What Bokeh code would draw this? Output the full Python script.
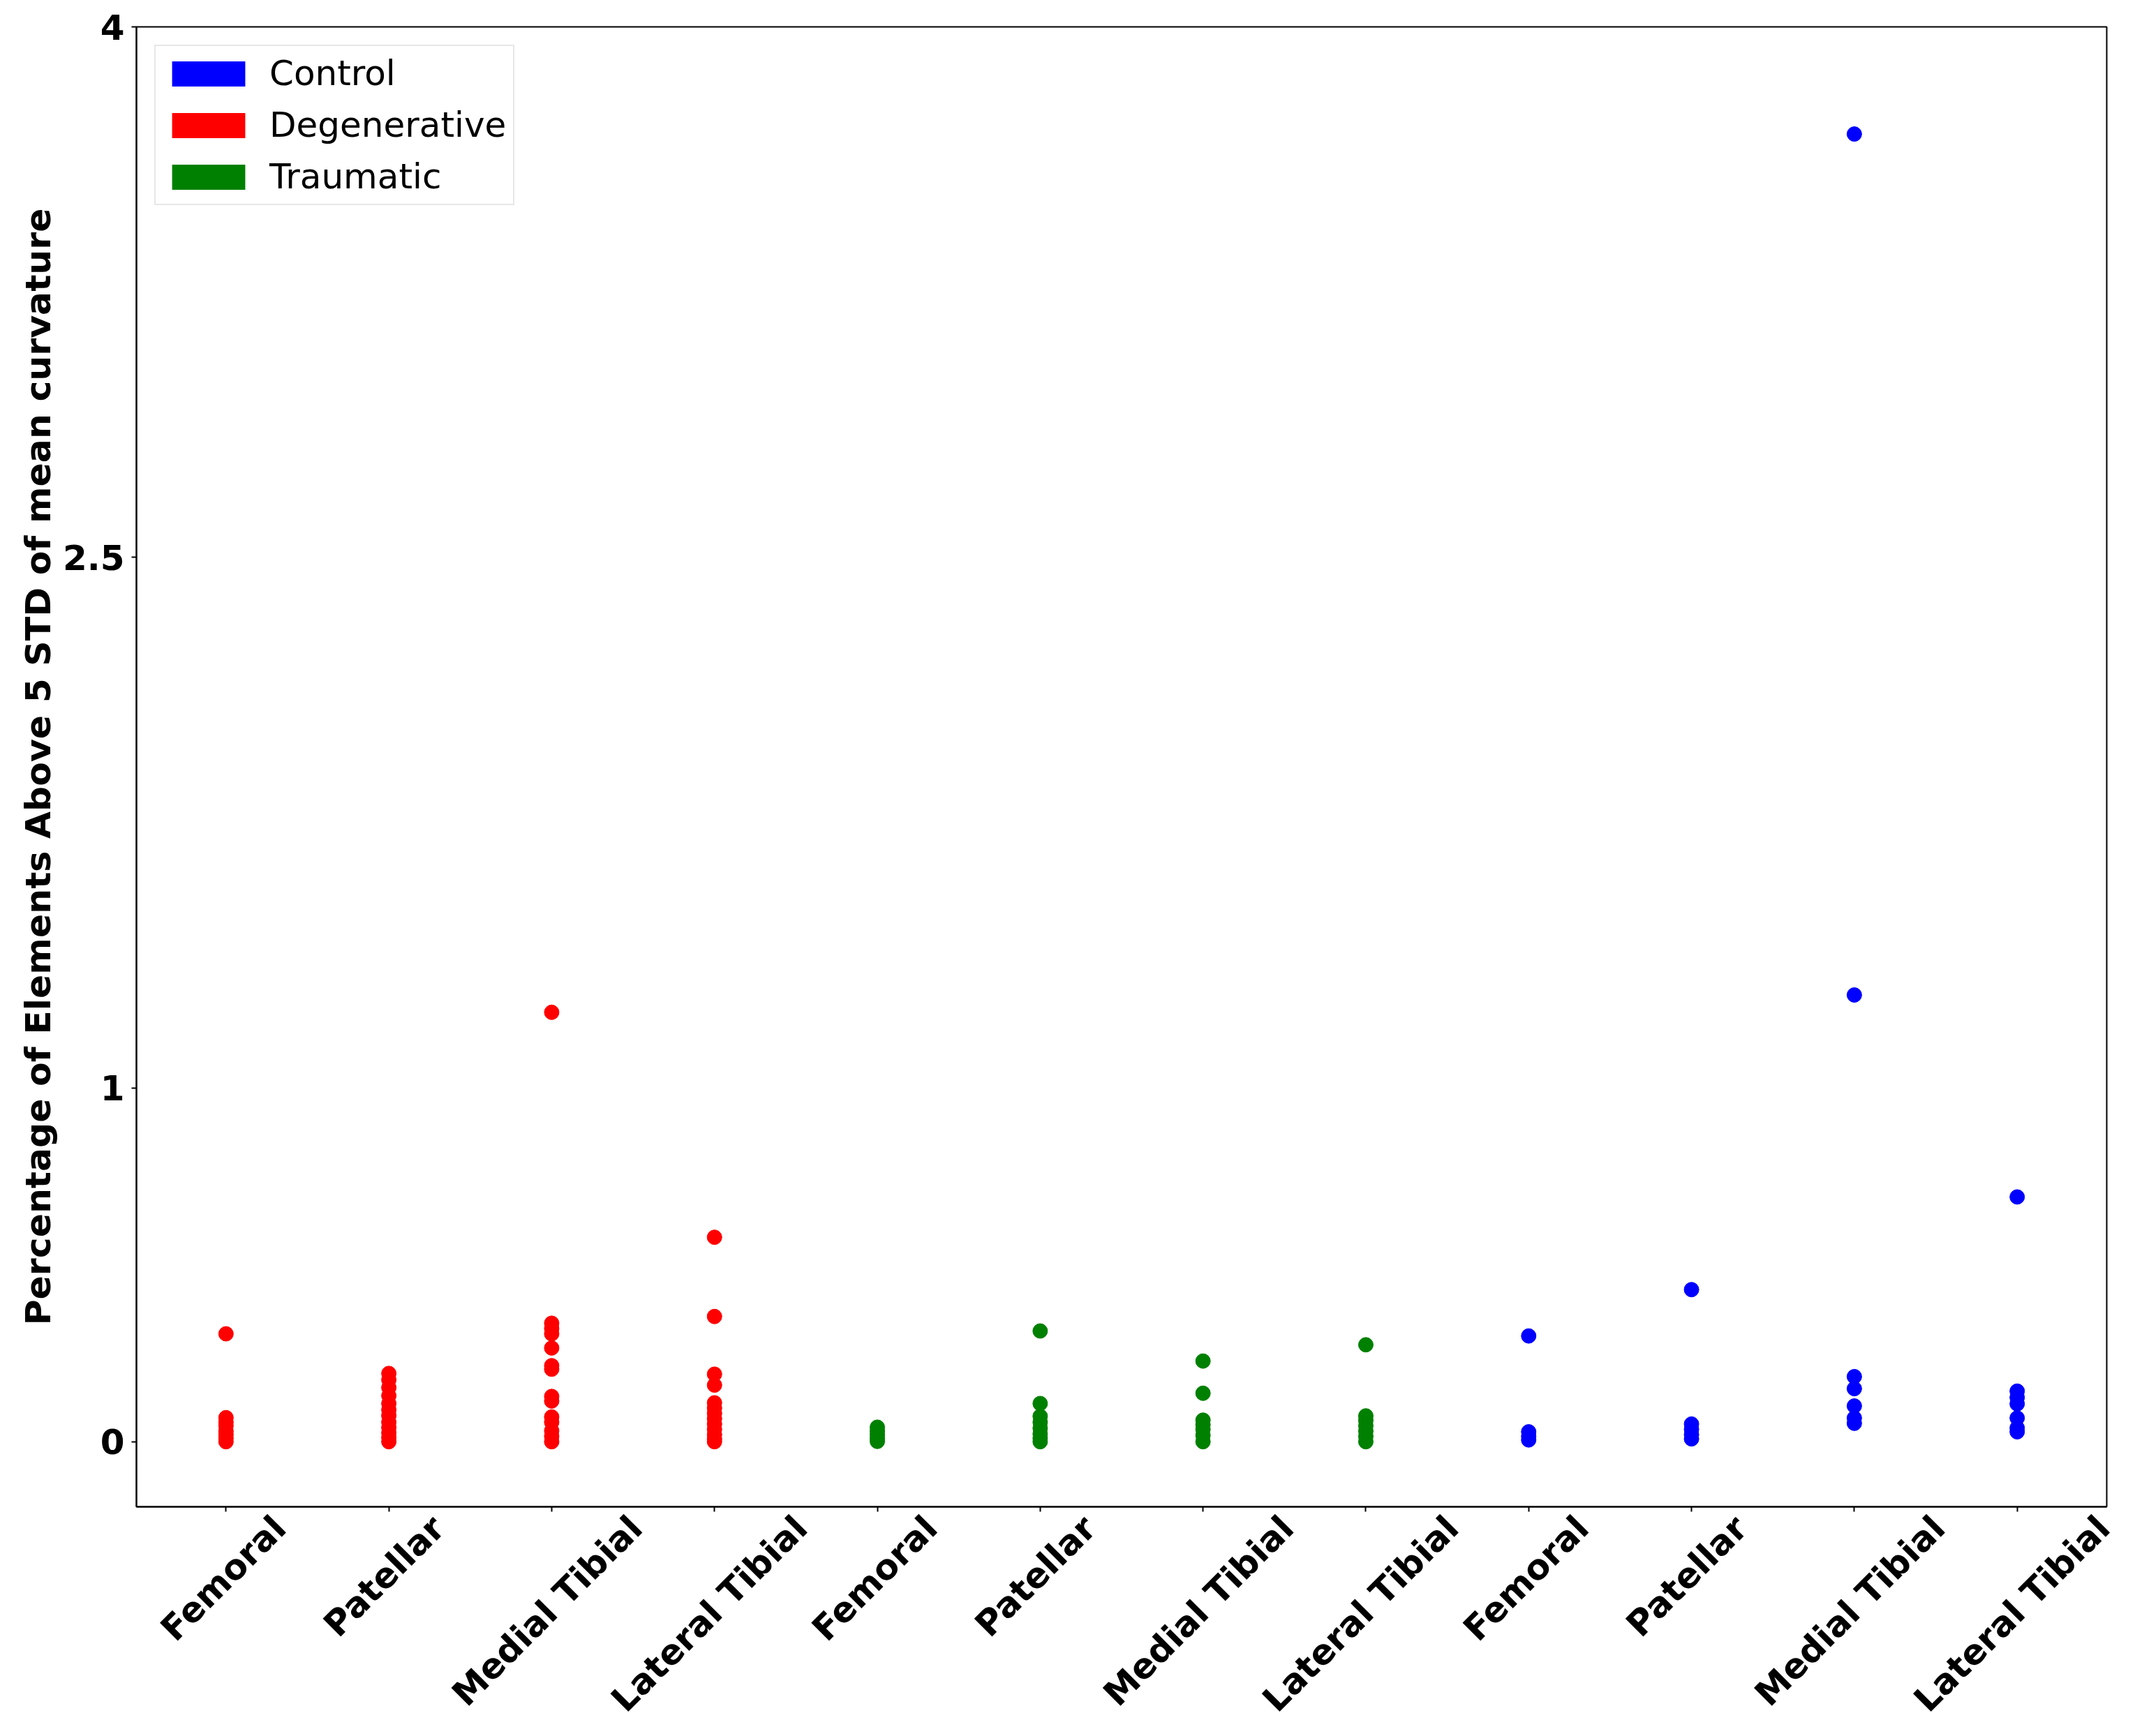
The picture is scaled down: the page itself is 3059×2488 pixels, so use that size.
import math
from bokeh.plotting import figure
from bokeh.models import (Range1d, FixedTicker, Legend, LegendItem, LinearAxis)
from bokeh.embed import file_html
from bokeh.resources import INLINE

# ---------------- data ----------------
regions = ["Femoral", "Patellar", "Medial Tibial", "Lateral Tibial"]
group_order = ["Degenerative", "Traumatic", "Control"]       # left-to-right on the x axis
legend_order = ["Control", "Degenerative", "Traumatic"]
group_colors = {"Control": "blue", "Degenerative": "red", "Traumatic": "green"}

deg_femoral = [0.305, 0.068, 0.055, 0.045, 0.03, 0.02, 0.01, 0.0]
deg_patellar = [0.193, 0.175, 0.153, 0.13, 0.108, 0.09, 0.074, 0.055, 0.04, 0.025, 0.012, 0.0]
deg_medial = [1.214, 0.335, 0.32, 0.305, 0.265, 0.215, 0.205, 0.128, 0.115, 0.07, 0.055, 0.031, 0.015, 0.0]
deg_lateral = [0.578, 0.354, 0.191, 0.16, 0.11, 0.095, 0.08, 0.065, 0.05, 0.035, 0.02, 0.008, 0.0]

tra_femoral = [0.041, 0.03, 0.02, 0.01, 0.001]
tra_patellar = [0.313, 0.108, 0.072, 0.055, 0.038, 0.022, 0.01, 0.0]
tra_medial = [0.228, 0.137, 0.061, 0.048, 0.035, 0.018, 0.0]
tra_lateral = [0.274, 0.073, 0.06, 0.045, 0.03, 0.015, 0.0]

con_femoral = [0.299, 0.028, 0.015, 0.005]
con_patellar = [0.43, 0.05, 0.035, 0.02, 0.008]
con_medial = [3.697, 1.263, 0.184, 0.150, 0.101, 0.067, 0.052]
con_lateral = [0.692, 0.143, 0.125, 0.107, 0.067, 0.039, 0.028]

series = {
    "Degenerative": [deg_femoral, deg_patellar, deg_medial, deg_lateral],
    "Traumatic": [tra_femoral, tra_patellar, tra_medial, tra_lateral],
    "Control": [con_femoral, con_patellar, con_medial, con_lateral],
}

y_ticks = [0, 1, 2.5, 4]
y_tick_labels = ["0", "1", "2.5", "4"]
y_label = "Percentage of Elements Above 5 STD of mean curvature"

# ---------------- styles ----------------
FONT = "DejaVu Sans"
tick_font_size = "50px"
PX_PER_UNIT = 233.3          # frame width / x-range span (2823 / 12.1)
# horizontal shift (px) from the tick to the end of the 45-degree label,
# so that each rotated label is centred under its tick (matplotlib style)
label_shift_px = {"Femoral": 77, "Patellar": 71, "Medial Tibial": 121, "Lateral Tibial": 124}

p = figure(width=3051, height=2488, output_backend="svg", toolbar_location=None,
           x_range=Range1d(-0.55, 11.55), y_range=Range1d(-0.184, 4.0),
           min_border_left=195, min_border_right=33, min_border_top=38,
           min_border_bottom=329)
p.background_fill_color = "white"
p.border_fill_color = "white"
p.outline_line_color = "black"
p.outline_line_width = 2
p.xgrid.visible = False
p.ygrid.visible = False

# scatter points
tick_positions = []
tick_texts = []
pos = 0
for g in group_order:
    for ri, reg in enumerate(regions):
        vals = series[g][ri]
        p.scatter(x=[pos] * len(vals), y=vals, size=21, color=group_colors[g],
                  marker="circle")
        tick_positions.append(pos)
        tick_texts.append(reg)
        pos += 1

# legend (rectangular patches) -- proxy renderers with a single NaN entry
nan = float("nan")
items = []
for g in legend_order:
    r = p.quad(left=[nan], right=[nan], top=[nan], bottom=[nan],
               fill_color=group_colors[g], line_color=None)
    items.append(LegendItem(label=g, renderers=[r]))
legend = Legend(items=items, location="top_left", margin=26,
                glyph_width=131, glyph_height=45, label_standoff=22,
                spacing=16, padding=10,
                label_text_font=FONT, label_text_font_size="50px",
                label_text_color="black",
                border_line_color="#d0d0d0", border_line_width=2,
                background_fill_color="white", background_fill_alpha=1.0)
p.add_layout(legend)

# axes
def style_axis(ax):
    ax.axis_line_width = 2
    ax.axis_line_color = "black"
    ax.major_tick_line_width = 2
    ax.major_tick_line_color = "black"
    ax.major_tick_out = 7
    ax.major_tick_in = 0
    ax.minor_tick_line_color = None
    ax.major_label_text_font = FONT
    ax.major_label_text_font_style = "bold"
    ax.major_label_text_font_size = tick_font_size
    ax.major_label_text_color = "black"

style_axis(p.xaxis[0])
style_axis(p.yaxis[0])

p.yaxis.ticker = FixedTicker(ticks=y_ticks)
p.yaxis.major_label_overrides = {t: s for t, s in zip(y_ticks, y_tick_labels)}
p.yaxis.major_label_standoff = 10
p.yaxis.axis_label = y_label
p.yaxis.axis_label_text_font = FONT
p.yaxis.axis_label_text_font_style = "bold"
p.yaxis.axis_label_text_font_size = "50.5px"
p.yaxis.axis_label_text_color = "black"
p.yaxis.axis_label_standoff = 3

# main x axis: tick marks only
xa = p.xaxis[0]
xa.ticker = FixedTicker(ticks=tick_positions)
xa.major_label_overrides = {t: "" for t in tick_positions}
xa.major_label_text_font_size = "1px"
xa.major_label_standoff = 0

# label axis: rotated texts, anchored so they sit centred under each tick
label_pos = [t + label_shift_px[s] / PX_PER_UNIT for t, s in zip(tick_positions, tick_texts)]
la = LinearAxis(ticker=FixedTicker(ticks=label_pos),
                major_label_overrides={lp: s for lp, s in zip(label_pos, tick_texts)},
                major_label_orientation=math.pi / 4,
                axis_line_color=None, major_tick_line_color=None,
                minor_tick_line_color=None, major_tick_out=0, major_tick_in=0,
                major_label_standoff=15,
                major_label_text_font=FONT, major_label_text_font_style="bold",
                major_label_text_font_size=tick_font_size,
                major_label_text_color="black")
p.add_layout(la, "below")

open("out.html", "w").write(file_html(p, INLINE))
